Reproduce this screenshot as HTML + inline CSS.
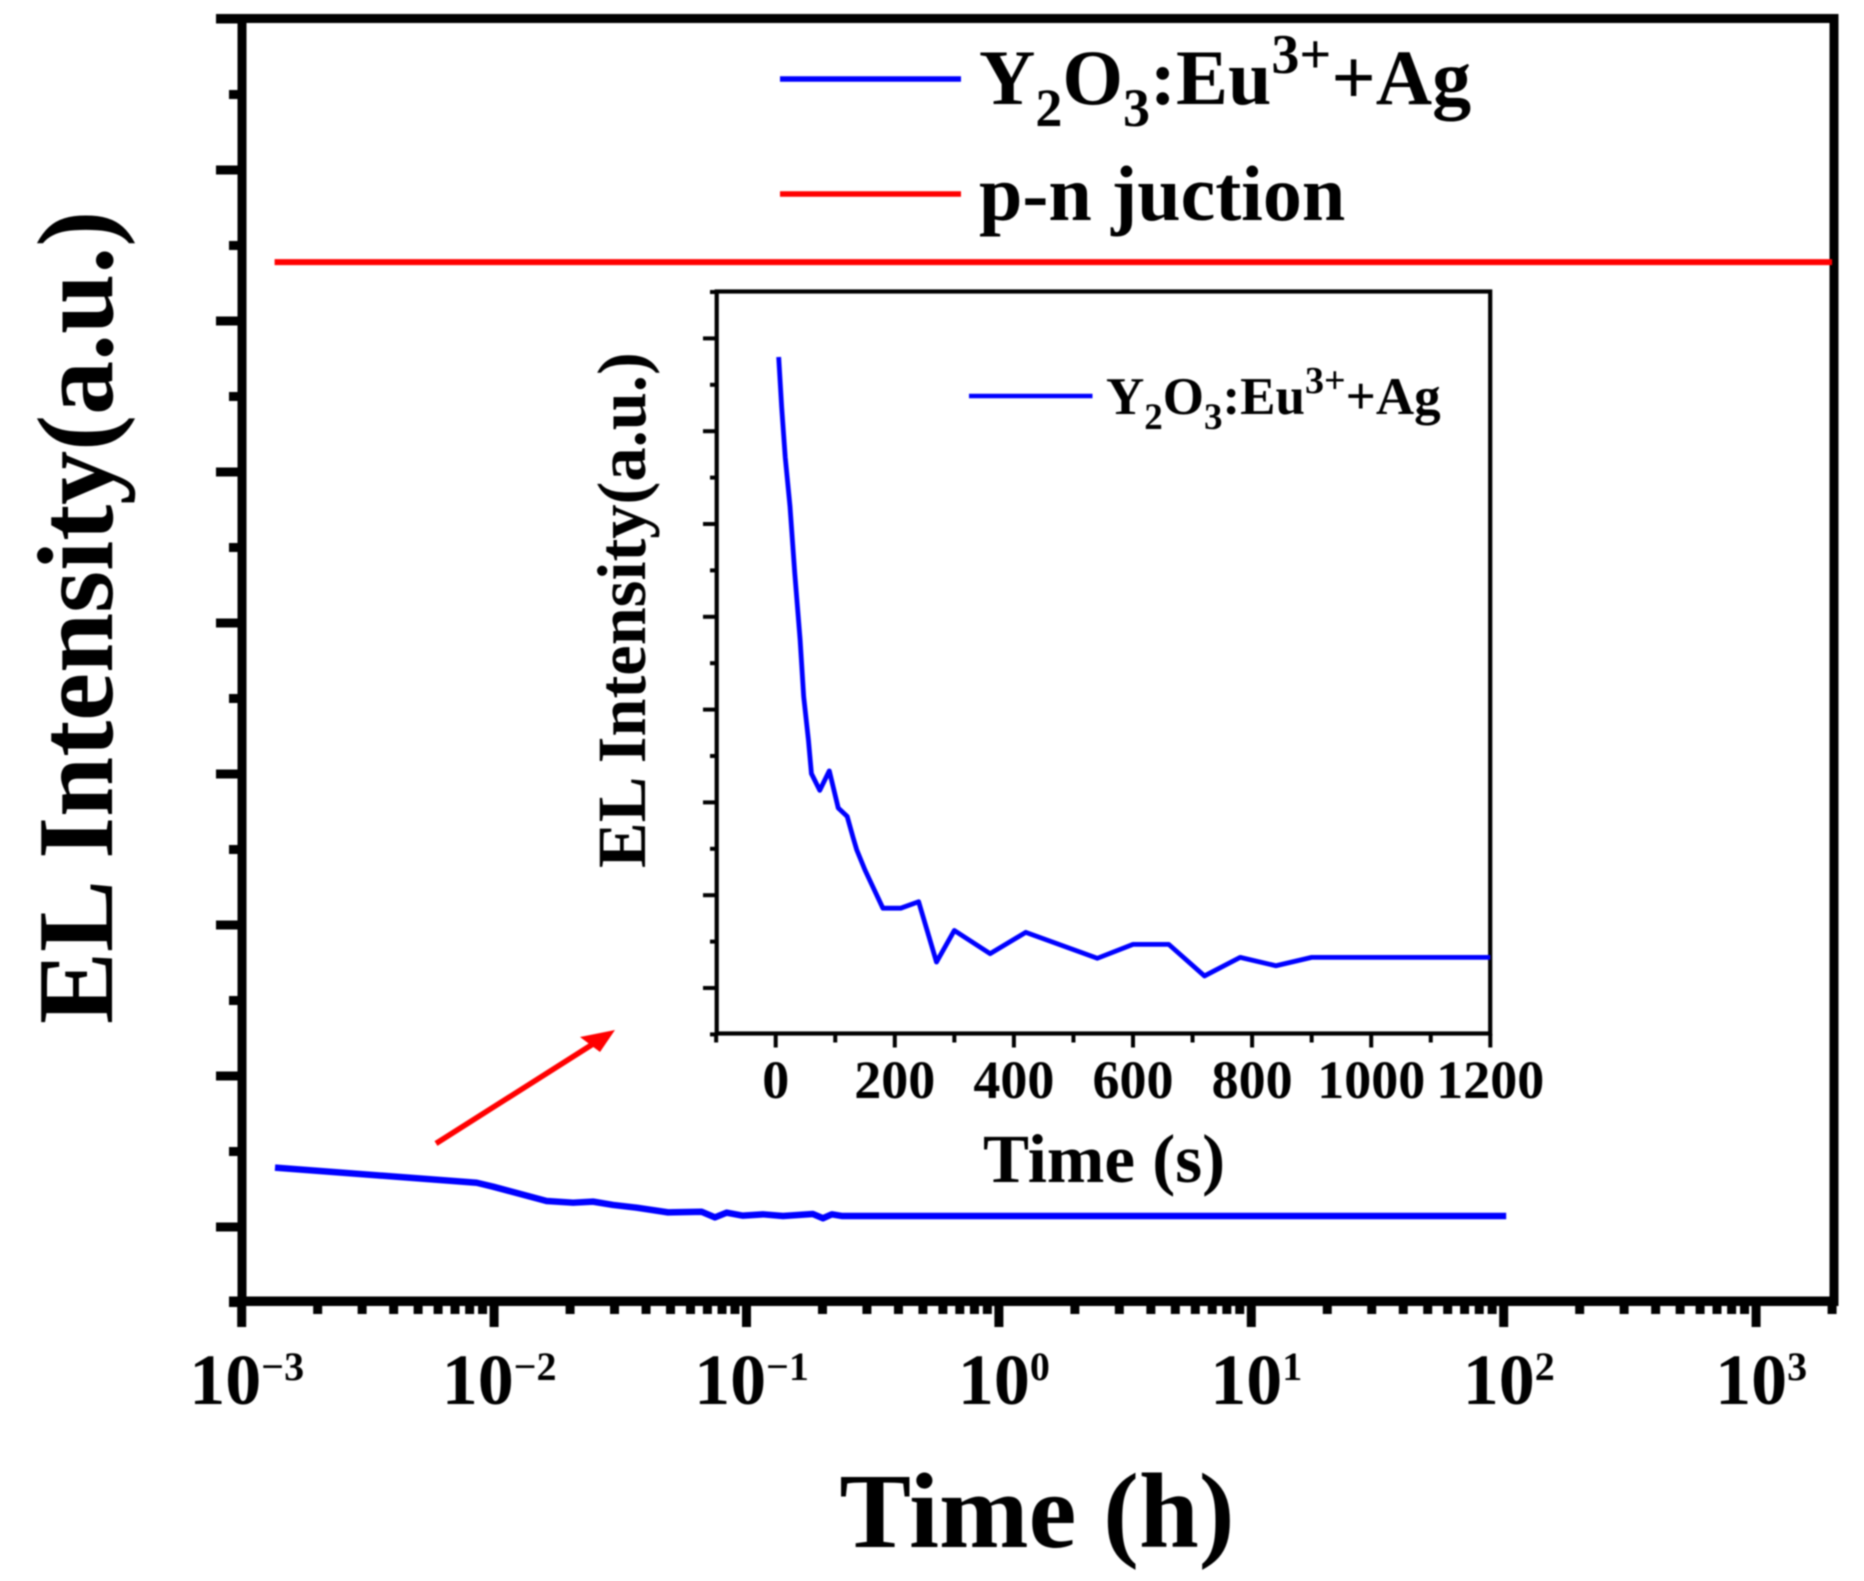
<!DOCTYPE html>
<html lang="en">
<head>
<meta charset="utf-8">
<title>EL Intensity vs Time</title>
<style>
html,body{margin:0;padding:0;background:#fff;}
body{width:1864px;height:1581px;overflow:hidden;}
svg{display:block;filter:blur(0.8px);}
text{font-family:"Liberation Serif",serif;font-weight:bold;fill:#000;}
</style>
</head>
<body>
<svg id="chart" xmlns="http://www.w3.org/2000/svg" width="1864" height="1581" viewBox="0 0 1864 1581">
  <rect x="0" y="0" width="1864" height="1581" fill="#fff"/>
  <g id="main-ticks"></g>
  <g fill="#000">
    <rect x="216" y="14" width="1622.5" height="9"/>
    <rect x="237.5" y="14" width="9" height="1292"/>
    <rect x="1829.5" y="14" width="9" height="1292"/>
    <rect x="229" y="1296.5" width="1609.5" height="9.5"/>
  </g>
  <g id="main-series"></g>
  <g id="main-labels"></g>

  <line x1="780" y1="79" x2="961" y2="79" stroke="#0000ff" stroke-width="5.5"/>
  <text x="979" y="104" font-size="78">Y<tspan dy="22" font-size="54">2</tspan><tspan dy="-22">O</tspan><tspan dy="22" font-size="54">3</tspan><tspan dy="-22">:Eu</tspan><tspan dy="-31" font-size="56">3+</tspan><tspan dy="31">+Ag</tspan></text>
  <line x1="780" y1="194" x2="961" y2="194" stroke="#ff0000" stroke-width="5.5"/>
  <text x="979" y="220" font-size="78">p-n juction</text>

  <text transform="translate(112 1024) rotate(-90)" font-size="108">EL Intensity(a.u.)</text>
  <text x="1037" y="1547" text-anchor="middle" font-size="107.5">Time (h)</text>

  <g>
    <line x1="436" y1="1143.5" x2="593" y2="1044" stroke="#ff0000" stroke-width="5.5"/>
    <polygon points="615,1030 580,1037 600,1052" fill="#ff0000"/>
  </g>

  <g id="inset-ticks"></g>
  <rect x="716.7" y="291.5" width="773.5" height="742" fill="none" stroke="#000" stroke-width="4.2"/>
  <g id="inset-series"></g>
  <g id="inset-labels"></g>

  <line x1="969" y1="396" x2="1092.5" y2="396" stroke="#0000ff" stroke-width="4.5"/>
  <text x="1106" y="414" font-size="53">Y<tspan dy="15" font-size="37">2</tspan><tspan dy="-15">O</tspan><tspan dy="15" font-size="37">3</tspan><tspan dy="-15">:Eu</tspan><tspan dy="-21" font-size="38">3+</tspan><tspan dy="21">+Ag</tspan></text>
  <text transform="translate(645 868) rotate(-90)" font-size="68.5">EL Intensity(a.u.)</text>
  <text x="1104" y="1182" text-anchor="middle" font-size="69">Time (s)</text>
</svg>
<script>
// Main chart data
const mainTimesHours = [0.001355,0.00853,0.00991,0.01614,0.02056,0.02466,0.02958,0.03673,0.04887,0.06637,0.07499,0.0835,0.0968,0.1161,0.1395,0.1832,0.2009,0.2178,0.2382,102.3];
const mainValues = [0.393,0.293,0.267,0.172,0.161,0.168,0.146,0.128,0.097,0.101,0.064,0.095,0.075,0.084,0.073,0.086,0.058,0.084,0.073,0.073];
const pnTimesHours = [0.00135,2000];
const pnValues = [6.39,6.39];
const mainXExponents = [-3,-2,-1,0,1,2,3];
const mainXMinorMultipliers = [2,3,4,5,6,7,8,9];
const mainXMax = 2000;
const mainYMajor = [0,1,2,3,4,5,6,7,8];
const mainYMinor = [-0.5,0.5,1.5,2.5,3.5,4.5,5.5,6.5,7.5];

// Inset chart data
const insetTimes = [5,10,16,24,32,41,47,55,60,74,90,105,120,130,136,150,180,210,240,270,300,360,420,540,600,660,720,780,840,900,1200];
const insetValues = [6.80,6.26,5.72,5.19,4.47,3.75,3.14,2.67,2.31,2.13,2.34,1.94,1.85,1.62,1.49,1.27,0.86,0.86,0.93,0.28,0.62,0.37,0.60,0.32,0.47,0.47,0.13,0.33,0.24,0.33,0.33];
const insetXMajor = [0,200,400,600,800,1000,1200];
const insetXMinor = [-100,100,300,500,700,900,1100];
const insetYMajor = [0,1,2,3,4,5,6,7];
const insetYMinor = [-0.5,0.5,1.5,2.5,3.5,4.5,5.5,6.5,7.5];

const SVGNS = 'http://www.w3.org/2000/svg';
function mainX(t){ return 241.7 + (Math.log10(t) + 3) * 252.4; }
function mainY(v){ return 1227 - v * 151; }
function insetX(s){ return 775.7 + s * 0.5955; }
function insetY(v){ return 988 - v * 92.8; }

function make(tag, attrs, parent){
  const el = document.createElementNS(SVGNS, tag);
  for (const k in attrs) el.setAttribute(k, attrs[k]);
  parent.appendChild(el);
  return el;
}
function pointsOf(xs, ys, fx, fy){
  return xs.map(function(x, i){ return fx(x).toFixed(2) + ',' + fy(ys[i]).toFixed(2); }).join(' ');
}

const mainTicks = document.getElementById('main-ticks');
const mainSeries = document.getElementById('main-series');
const mainLabels = document.getElementById('main-labels');
const insetTicks = document.getElementById('inset-ticks');
const insetSeries = document.getElementById('inset-series');
const insetLabels = document.getElementById('inset-labels');

// Main x ticks
mainXExponents.forEach(function(e){
  const x = mainX(Math.pow(10, e));
  const tick = make('rect', {x: x - 4.5, y: 1300, width: 9, height: 27, fill: '#000'}, mainTicks);
  
  

  const label = make('text', {x: x + 5, y: 1404, 'text-anchor': 'middle', 'font-size': 72}, mainLabels);
  
  
  label.appendChild(document.createTextNode('10'));
  const sup = make('tspan', {dy: -24, 'font-size': 40}, label);
  sup.textContent = (e < 0 ? '\u2212' : '') + Math.abs(e);

  mainXMinorMultipliers.forEach(function(m){
    const t = m * Math.pow(10, e);
    if (t > mainXMax) return;
    const minor = make('rect', {x: mainX(t) - 4.5, y: 1300, width: 9, height: 14, fill: '#000'}, mainTicks);
    
    
  });
});

// Main y ticks
mainYMajor.forEach(function(v){
  const t = make('rect', {x: 216, y: mainY(v) - 4.5, width: 24, height: 9, fill: '#000'}, mainTicks);
  
  
});
mainYMinor.forEach(function(v){
  const t = make('rect', {x: 229, y: mainY(v) - 4.5, width: 11, height: 9, fill: '#000'}, mainTicks);
  
  
});

// Main series
const pnLine = make('polyline', {points: pointsOf(pnTimesHours, pnValues, mainX, mainY), fill: 'none', stroke: '#ff0000', 'stroke-width': 6}, mainSeries);



const mainLine = make('polyline', {points: pointsOf(mainTimesHours, mainValues, mainX, mainY), fill: 'none', stroke: '#0000ff', 'stroke-width': 6.5, 'stroke-linejoin': 'round'}, mainSeries);



// Inset x ticks
insetXMajor.forEach(function(s){
  const x = insetX(s);
  const t = make('rect', {x: x - 2, y: 1034, width: 4, height: 13.5, fill: '#000'}, insetTicks);
  
  

  const label = make('text', {x: x, y: 1098, 'text-anchor': 'middle', 'font-size': 54}, insetLabels);
  
  
  label.textContent = String(s);
});
insetXMinor.forEach(function(s){
  const t = make('rect', {x: insetX(s) - 2, y: 1034, width: 4, height: 8.5, fill: '#000'}, insetTicks);
  
  
});

// Inset y ticks
insetYMajor.forEach(function(v){
  const t = make('rect', {x: 703, y: insetY(v) - 2, width: 13, height: 4, fill: '#000'}, insetTicks);
  
  
});
insetYMinor.forEach(function(v){
  const t = make('rect', {x: 710, y: insetY(v) - 2, width: 6, height: 4, fill: '#000'}, insetTicks);
  
  
});

// Inset series
const insetLine = make('polyline', {points: pointsOf(insetTimes, insetValues, insetX, insetY), fill: 'none', stroke: '#0000ff', 'stroke-width': 4.8, 'stroke-linejoin': 'round'}, insetSeries);


</script>
</body>
</html>
